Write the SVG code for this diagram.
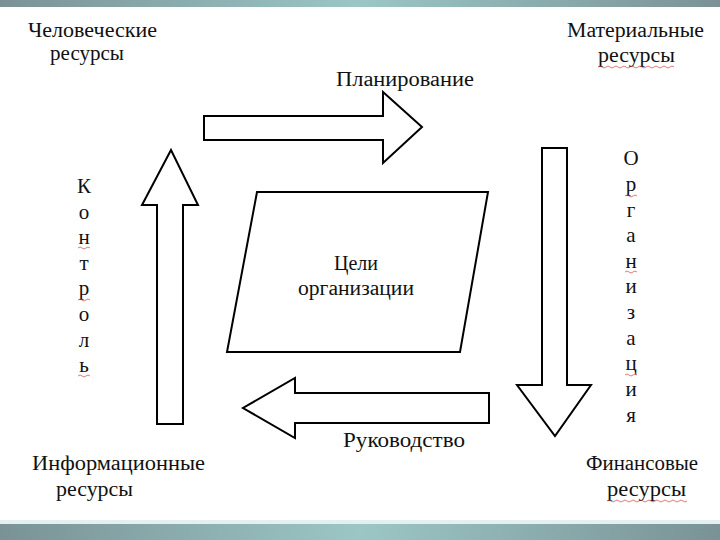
<svg xmlns="http://www.w3.org/2000/svg" width="720" height="540" viewBox="0 0 720 540">
  <defs>
    <linearGradient id="bar" x1="0" y1="0" x2="1" y2="0">
      <stop offset="0" stop-color="#7a9296"/>
      <stop offset="0.5" stop-color="#9cc6c6"/>
      <stop offset="1" stop-color="#7a9296"/>
    </linearGradient>
    <style>
      .t { font-family: "Liberation Serif", "Times New Roman", serif; font-size: 20px; fill: #111; }
      .v { font-family: "Liberation Serif", "Times New Roman", serif; font-size: 21px; fill: #111; text-anchor: middle; }
      .c { text-anchor: middle; }
      .shape { fill: #fff; stroke: #000; stroke-width: 2; stroke-linejoin: miter; }
      .sq { fill: none; stroke: #d04040; stroke-width: 1; opacity: 0.7; }
    </style>
  </defs>
  <rect width="720" height="540" fill="#fff"/>
  <rect x="0" y="0" width="720" height="7" fill="url(#bar)"/>
  <rect x="0" y="520" width="720" height="4" fill="#e4f0f0"/>
  <rect x="0" y="524" width="720" height="16" fill="url(#bar)"/>

  <g id="connectors">
    <path id="arrow-planning" class="shape" d="M204,116 H383 V92 L422,127 L383,163 V140 H204 Z"/>
    <path id="arrow-organization" class="shape" d="M542,148 H567 V385 H591 L555,436 L517,385 H542 Z"/>
    <path id="arrow-management" class="shape" d="M489,393 V423 H295 V438 L243,408 L295,378 V393 Z"/>
    <path id="arrow-control" class="shape" d="M157,424 V205 H142 L171,150 L198,205 H183 V424 Z"/>
  </g>

  <g id="node-goals">
    <path class="shape" d="M257,192 H488 L460,352 H227 Z"/>
    <text class="t c" x="356" y="270">Цели</text>
    <text class="t c" x="356" y="295" textLength="116" lengthAdjust="spacingAndGlyphs">организации</text>
  </g>

  <g id="node-human">
    <text class="t" x="28" y="37" textLength="129" lengthAdjust="spacingAndGlyphs">Человеческие</text>
    <text class="t" x="50" y="60" textLength="74" lengthAdjust="spacingAndGlyphs">ресурсы</text>
  </g>

  <g id="node-material">
    <text class="t" x="567" y="37" textLength="137" lengthAdjust="spacingAndGlyphs">Материальные</text>
    <text class="t" x="598" y="62" textLength="77" lengthAdjust="spacingAndGlyphs">ресурсы</text>
    <path class="sq" d="M598,67 q2,-2 4,0 t4,0 t4,0 t4,0 t4,0 t4,0 t4,0 t4,0 t4,0 t4,0 t4,0 t4,0 t4,0 t4,0 t4,0 t4,0 t4,0 t4,0 t4,0"/>
  </g>

  <g id="node-info">
    <text class="t" x="32" y="470" textLength="173" lengthAdjust="spacingAndGlyphs">Информационные</text>
    <text class="t" x="56" y="496" textLength="77" lengthAdjust="spacingAndGlyphs">ресурсы</text>
  </g>

  <g id="node-finance">
    <text class="t" x="586" y="470" textLength="112" lengthAdjust="spacingAndGlyphs">Финансовые</text>
    <text class="t" x="607" y="496" textLength="79" lengthAdjust="spacingAndGlyphs">ресурсы</text>
    <path class="sq" d="M607,501 q2,-2 4,0 t4,0 t4,0 t4,0 t4,0 t4,0 t4,0 t4,0 t4,0 t4,0 t4,0 t4,0 t4,0 t4,0 t4,0 t4,0 t4,0 t4,0 t4,0 t4,0"/>
  </g>

  <g id="label-planning">
    <text class="t" x="336" y="86" textLength="138" lengthAdjust="spacingAndGlyphs">Планирование</text>
  </g>

  <g id="label-management">
    <text class="t" x="343" y="447" textLength="122" lengthAdjust="spacingAndGlyphs">Руководство</text>
  </g>

  <g id="label-control">
    <text class="v" x="84" y="193">К</text>
    <text class="v" x="84" y="219">о</text>
    <text class="v" x="84" y="244">н</text>
    <text class="v" x="84" y="270">т</text>
    <text class="v" x="84" y="295">р</text>
    <text class="v" x="84" y="321">о</text>
    <text class="v" x="84" y="347">л</text>
    <text class="v" x="84" y="372">ь</text>
    <path class="sq" d="M78,248 q2,-2 4,0 t4,0 t4,0"/>
    <path class="sq" d="M78,300 q2,-2 4,0 t4,0 t4,0"/>
    <path class="sq" d="M78,376 q2,-2 4,0 t4,0 t4,0"/>
  </g>

  <g id="label-organization">
    <text class="v" x="631" y="165">О</text>
    <text class="v" x="631" y="191">р</text>
    <text class="v" x="631" y="217">г</text>
    <text class="v" x="631" y="242">а</text>
    <text class="v" x="631" y="268">н</text>
    <text class="v" x="631" y="293">и</text>
    <text class="v" x="631" y="319">з</text>
    <text class="v" x="631" y="345">а</text>
    <text class="v" x="631" y="370">ц</text>
    <text class="v" x="631" y="396">и</text>
    <text class="v" x="631" y="422">я</text>
    <path class="sq" d="M625,196 q2,-2 4,0 t4,0 t4,0"/>
    <path class="sq" d="M625,272 q2,-2 4,0 t4,0 t4,0"/>
    <path class="sq" d="M625,375 q2,-2 4,0 t4,0 t4,0"/>
  </g>
</svg>
